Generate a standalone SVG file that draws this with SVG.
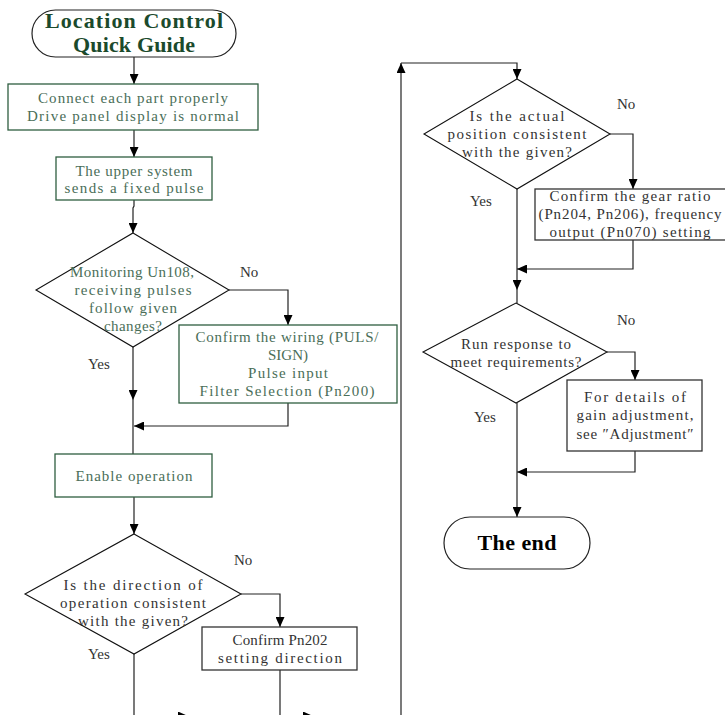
<svg xmlns="http://www.w3.org/2000/svg" width="725" height="715" viewBox="0 0 725 715">
  <defs>
    <marker id="arrow" markerUnits="userSpaceOnUse" markerWidth="10" markerHeight="9" refX="10" refY="4.5" orient="auto">
      <path d="M0,0 L10,4.5 L0,9 z" fill="#000"/>
    </marker>
  </defs>
  <style>
    .term { fill: #fff; stroke: #222; stroke-width: 1.2; }
    .gbox { fill: #fff; stroke: #2f5e40; stroke-width: 1.3; }
    .kbox { fill: #fff; stroke: #333; stroke-width: 1.3; }
    .dia { fill: #fff; stroke: #111; stroke-width: 1.1; }
    .conn { fill: none; stroke: #222; stroke-width: 1.2; }
    text { font-family: "Liberation Serif", "DejaVu Serif", serif; font-size: 15px; text-anchor: middle; }
    .gt { fill: #4a6e58; }
    .kt { fill: #333; }
    .title { font-size: 22px; font-weight: bold; fill: #1b4a2c; }
    .endt { font-size: 22px; font-weight: bold; fill: #000; }
    .lbl { fill: #333; text-anchor: start; }
  </style>

  <!-- connectors -->
  <g id="connectors">
    <path class="conn" d="M134,57 V84" marker-end="url(#arrow)"/>
    <path class="conn" d="M134,130 V157" marker-end="url(#arrow)"/>
    <path class="conn" d="M134,200 V206 L133,208 V233" marker-end="url(#arrow)"/>
    <path class="conn" d="M229,290 H288 V325" marker-end="url(#arrow)"/>
    <path class="conn" d="M133,347 V400" marker-end="url(#arrow)"/>
    <path class="conn" d="M133,400 V454"/>
    <path class="conn" d="M288,403 V426 H134" marker-end="url(#arrow)"/>
    <path class="conn" d="M134,497 V534" marker-end="url(#arrow)"/>
    <path class="conn" d="M241,594 H280 V627" marker-end="url(#arrow)"/>
    <path class="conn" d="M134,654 V716 H188" marker-end="url(#arrow)"/>
    <path class="conn" d="M280,670 V716 H313" marker-end="url(#arrow)"/>
    <path class="conn" d="M401,720 V63" marker-end="url(#arrow)"/>
    <path class="conn" d="M401,63 H517 V79" marker-end="url(#arrow)"/>
    <path class="conn" d="M610,134 H633 V189" marker-end="url(#arrow)"/>
    <path class="conn" d="M517,189 V290" marker-end="url(#arrow)"/>
    <path class="conn" d="M633,240 V269 H517" marker-end="url(#arrow)"/>
    <path class="conn" d="M517,290 V303"/>
    <path class="conn" d="M607,352 H635 V380" marker-end="url(#arrow)"/>
    <path class="conn" d="M635,451 V472 H517" marker-end="url(#arrow)"/>
    <path class="conn" d="M517,403 V517" marker-end="url(#arrow)"/>
  </g>

  <!-- branch labels -->
  <g id="labels">
    <text class="lbl" x="240" y="277">No</text>
    <text class="lbl" x="88" y="369">Yes</text>
    <text class="lbl" x="234" y="565">No</text>
    <text class="lbl" x="88" y="659">Yes</text>
    <text class="lbl" x="617" y="109">No</text>
    <text class="lbl" x="470" y="206">Yes</text>
    <text class="lbl" x="617" y="325">No</text>
    <text class="lbl" x="474" y="422">Yes</text>
  </g>

  <g id="start">
    <rect class="term" x="32" y="10" width="204" height="47" rx="23.5" ry="23.5"/>
    <text class="title" x="134" y="28" textLength="178" lengthAdjust="spacing">Location Control</text>
    <text class="title" x="134" y="52" textLength="122" lengthAdjust="spacing">Quick Guide</text>
  </g>

  <g id="connect">
    <rect class="gbox" x="8" y="84" width="250" height="46"/>
    <text class="gt" x="133" y="103" textLength="190" lengthAdjust="spacing">Connect each part properly</text>
    <text class="gt" x="133" y="121" textLength="212" lengthAdjust="spacing">Drive panel display is normal</text>
  </g>

  <g id="pulse">
    <rect class="gbox" x="56" y="157" width="156" height="43"/>
    <text class="gt" x="134" y="176" textLength="117" lengthAdjust="spacing">The upper system</text>
    <text class="gt" x="134" y="193" textLength="139" lengthAdjust="spacing">sends a fixed pulse</text>
  </g>

  <g id="monitor">
    <polygon class="dia" points="133,233 229,290 133,347 36,290"/>
    <text class="gt" x="132" y="277" textLength="124" lengthAdjust="spacing">Monitoring Un108,</text>
    <text class="gt" x="133" y="295" textLength="117" lengthAdjust="spacing">receiving pulses</text>
    <text class="gt" x="133" y="313" textLength="88" lengthAdjust="spacing">follow given</text>
    <text class="gt" x="133" y="331" textLength="58" lengthAdjust="spacing">changes?</text>
  </g>

  <g id="wiring">
    <rect class="gbox" x="179" y="325" width="218" height="78"/>
    <text class="gt" x="287" y="342" textLength="183" lengthAdjust="spacing">Confirm the wiring (PULS/</text>
    <text class="gt" x="288" y="360">SIGN)</text>
    <text class="gt" x="288" y="378" textLength="80" lengthAdjust="spacing">Pulse input</text>
    <text class="gt" x="287" y="396" textLength="175" lengthAdjust="spacing">Filter Selection (Pn200)</text>
  </g>

  <g id="enable">
    <rect class="gbox" x="55" y="454" width="157" height="43"/>
    <text class="gt" x="134" y="481" textLength="117" lengthAdjust="spacing">Enable operation</text>
  </g>

  <g id="direction">
    <polygon class="dia" points="134,534 241,594 134,654 25,594"/>
    <text class="kt" x="133" y="590" textLength="139" lengthAdjust="spacing">Is the direction of</text>
    <text class="kt" x="133" y="608" textLength="146" lengthAdjust="spacing">operation consistent</text>
    <text class="kt" x="133" y="626" textLength="110" lengthAdjust="spacing">with the given?</text>
  </g>

  <g id="pn202">
    <rect class="kbox" x="202" y="627" width="155" height="43"/>
    <text class="kt" x="280" y="645" textLength="95" lengthAdjust="spacing">Confirm Pn202</text>
    <text class="kt" x="280" y="663" textLength="124" lengthAdjust="spacing">setting direction</text>
  </g>

  <g id="position">
    <polygon class="dia" points="517,79 610,134 517,189 424,134"/>
    <text class="kt" x="517" y="121" textLength="95" lengthAdjust="spacing">Is the actual</text>
    <text class="kt" x="517" y="139" textLength="139" lengthAdjust="spacing">position consistent</text>
    <text class="kt" x="517" y="157" textLength="110" lengthAdjust="spacing">with the given?</text>
  </g>

  <g id="gear">
    <rect class="kbox" x="535" y="189" width="191" height="51"/>
    <text class="kt" x="630" y="201" textLength="161" lengthAdjust="spacing">Confirm the gear ratio</text>
    <text class="kt" x="630" y="219" textLength="183" lengthAdjust="spacing">(Pn204, Pn206), frequency</text>
    <text class="kt" x="630" y="237" textLength="161" lengthAdjust="spacing">output (Pn070) setting</text>
  </g>

  <g id="response">
    <polygon class="dia" points="516,303 607,352 516,403 423,352"/>
    <text class="kt" x="516" y="349" textLength="110" lengthAdjust="spacing">Run response to</text>
    <text class="kt" x="516" y="367" textLength="131" lengthAdjust="spacing">meet requirements?</text>
  </g>

  <g id="gain">
    <rect class="kbox" x="567" y="380" width="135" height="71"/>
    <text class="kt" x="635" y="402" textLength="102" lengthAdjust="spacing">For details of</text>
    <text class="kt" x="635" y="420" textLength="117" lengthAdjust="spacing">gain adjustment,</text>
    <text class="kt" x="635" y="439" textLength="117" lengthAdjust="spacing">see ″Adjustment″</text>
  </g>

  <g id="end">
    <rect class="term" x="444" y="517" width="146" height="52" rx="26" ry="26"/>
    <text class="endt" x="517" y="550" textLength="79" lengthAdjust="spacing">The end</text>
  </g>
</svg>
